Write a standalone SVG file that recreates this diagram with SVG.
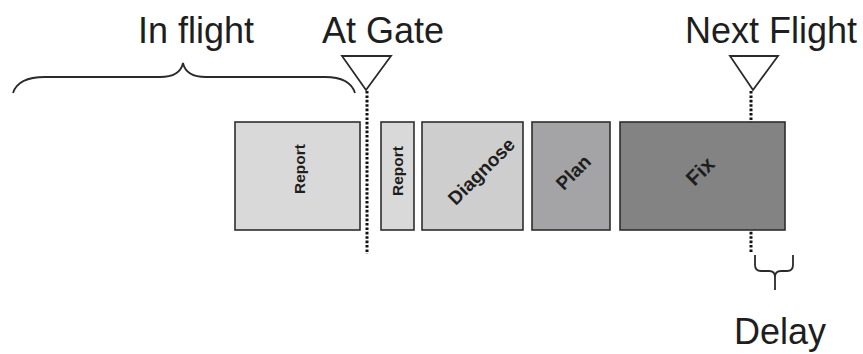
<svg xmlns="http://www.w3.org/2000/svg" width="863" height="354" viewBox="0 0 863 354">
  <style>
    .lbl { font-family: "Liberation Sans", Arial, sans-serif; font-size: 36px; fill: #1e1e1e; text-anchor: middle; }
    .box { stroke: #2e2e2e; stroke-width: 1.6; }
    .task { font-family: "Liberation Sans", Arial, sans-serif; font-weight: bold; fill: #1e1e1e; text-anchor: middle; }
    .dots { stroke: #111; stroke-width: 3; stroke-dasharray: 2.6 1.8; fill: none; }
    .brace { stroke: #2a2a2a; stroke-width: 1.8; fill: none; }
    .mark { stroke: #2a2a2a; stroke-width: 1.8; fill: #fff; stroke-linejoin: miter; }
  </style>

  <!-- timeline markers and braces -->
  <g id="connectors">
    <line class="dots" x1="367" y1="91" x2="367" y2="254"/>
    <line class="dots" x1="751" y1="91" x2="751" y2="253"/>
    <path class="brace" d="M13,93 Q18,77 45,77 H160 Q180,77 183,63 Q186,77 206,77 H325 Q350,77 355,93"/>
    <path class="brace" d="M755,255 V265 Q755,271 761,271 H769 Q775,271 775,277 V290 M775,277 Q775,271 781,271 H787 Q793,271 793,265 V255"/>
  </g>

  <g id="in-flight">
    <text class="lbl" x="196" y="43">In flight</text>
  </g>

  <g id="at-gate">
    <text class="lbl" x="383" y="43">At Gate</text>
    <polygon class="mark" points="342,56 391,56 366,90"/>
  </g>

  <g id="next-flight">
    <text class="lbl" x="771" y="43">Next Flight</text>
    <polygon class="mark" points="730,56 778,56 753,90"/>
  </g>

  <g id="delay">
    <text class="lbl" x="780" y="344">Delay</text>
  </g>

  <g id="report-1">
    <rect class="box" x="235" y="122" width="125" height="108" fill="#d9d9d9"/>
    <text class="task" font-size="15.5" transform="translate(299,169) rotate(-90)" dy="5.5">Report</text>
  </g>

  <g id="report-2">
    <rect class="box" x="381" y="122" width="33" height="108" fill="#d9d9d9"/>
    <text class="task" font-size="15.5" transform="translate(397,171) rotate(-90)" dy="5.5">Report</text>
  </g>

  <g id="diagnose">
    <rect class="box" x="422" y="122" width="101" height="108" fill="#cecece"/>
    <text class="task" font-size="19" transform="translate(481,171) rotate(-45)" dy="7">Diagnose</text>
  </g>

  <g id="plan">
    <rect class="box" x="532" y="122" width="78" height="108" fill="#a4a4a6"/>
    <text class="task" font-size="19" transform="translate(573,172) rotate(-45)" dy="7">Plan</text>
  </g>

  <g id="fix">
    <rect class="box" x="620" y="122" width="165" height="108" fill="#838383"/>
    <text class="task" font-size="21" font-weight="normal" transform="translate(700,171) rotate(-45)" dy="7.5">Fix</text>
  </g>
</svg>
